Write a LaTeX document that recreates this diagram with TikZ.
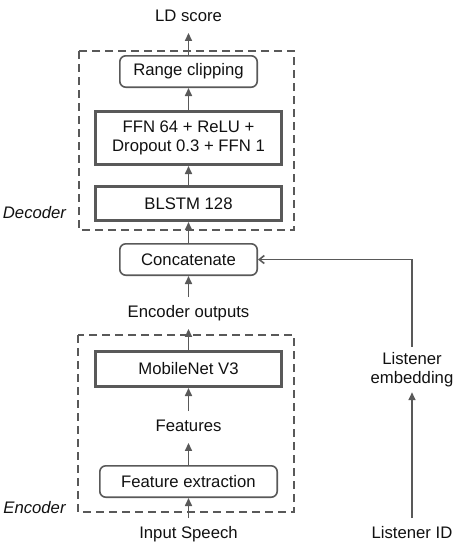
\documentclass[tikz,border=0pt]{standalone}
\usepackage{fontspec}
\setmainfont{Liberation Sans}
\usetikzlibrary{arrows.meta}
\definecolor{ln}{HTML}{595959}
\definecolor{tx}{HTML}{111111}
\begin{document}
\begin{tikzpicture}[x=1pt,y=-1pt,
  every node/.style={font=\fontsize{16.7}{19.5}\selectfont, text=tx},
  lbl/.style={inner xsep=2pt, inner ysep=8pt, text height=12pt, text depth=3.5pt},
  rbox/.style={draw=ln, line width=1.6pt, rounded corners=6pt, inner sep=0pt},
  tbox/.style={draw=ln, line width=3pt, inner sep=0pt},
  grp/.style={draw=ln, line width=2.5pt, dash pattern=on 8pt off 5pt},
  arr/.style={draw=ln, line width=1.6pt, -{Triangle[length=8pt,width=7pt]}},
  oarr/.style={draw=ln, line width=1.6pt, -{Straight Barb[length=5pt,width=8pt]}}
]
\useasboundingbox (0,0) rectangle (459,549);
% group boxes
\draw[grp] (79,51) rectangle (294,230);
\draw[grp] (78,335) rectangle (294,512);
\node[font=\fontsize{16.7}{19.5}\selectfont\itshape] (declabel) at (34.5,213) {Decoder};
\node[font=\fontsize{16.7}{19.5}\selectfont\itshape] (enclabel) at (34.5,508) {Encoder};
% decoder
\node[lbl] (ld) at (188.5,17) {LD score};
\node[rbox, minimum width=137.4pt, minimum height=31.4pt] (range) at (188.5,71.5) {Range clipping};
\node[tbox, minimum width=186pt, minimum height=53pt, align=center] (ffn) at (188.5,138) {FFN 64 + ReLU +\\Dropout 0.3 + FFN 1};
\node[tbox, minimum width=186pt, minimum height=34pt] (blstm) at (188.5,203.5) {BLSTM 128};
% middle
\node[rbox, minimum width=137.4pt, minimum height=31.4pt] (concat) at (188.5,259.5) {Concatenate};
\node[lbl] (encout) at (188.5,313) {Encoder outputs};
% encoder
\node[tbox, minimum width=186pt, minimum height=35pt] (mobile) at (188.5,369) {MobileNet V3};
\node[lbl] (feats) at (188.5,427) {Features};
\node[rbox, minimum width=177.4pt, minimum height=31.4pt] (featex) at (188.5,481.5) {Feature extraction};
\node[lbl] (input) at (188.5,534) {Input Speech};
% listener
\node[lbl] (lid) at (412,534) {Listener ID};
\node[inner xsep=2pt, inner ysep=5pt, align=center] (lemb) at (412,369.5) {Listener\\embedding};
% connectors
\draw[arr] (range) -- (ld);
\draw[arr] (ffn) -- (range);
\draw[arr] (blstm) -- (ffn);
\draw[arr] (concat) -- (blstm);
\draw[arr] (encout) -- (concat);
\draw[arr] (mobile) -- (encout);
\draw[arr] (feats) -- (mobile);
\draw[arr] (featex) -- (feats);
\draw[arr] (input) -- (featex);
\draw[arr] (lid) -- (lemb);
\draw[oarr] (lemb) |- (concat);
\end{tikzpicture}
\end{document}
